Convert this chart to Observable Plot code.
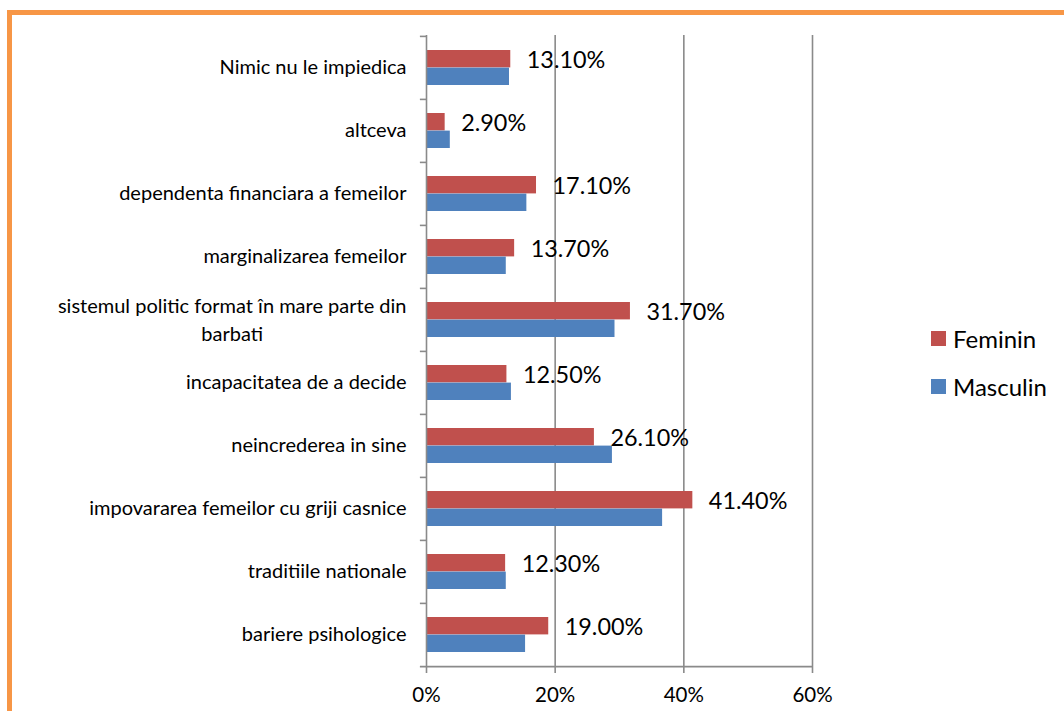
<!DOCTYPE html>
<html>
<head>
<meta charset="utf-8">
<script src="https://cdn.jsdelivr.net/npm/d3@7"></script>
<script src="https://cdn.jsdelivr.net/npm/@observablehq/plot@0.6"></script>
<style>
  html, body { margin: 0; padding: 0; background: #fff; }
  #wrap { position: relative; width: 1064px; height: 711px; overflow: hidden; font-family: Lato, "Open Sans", sans-serif; }
  #border { position: absolute; left: 7px; top: 10px; width: 1200px; height: 900px;
            border-left: 5px solid #F79646; border-top: 5px solid #F79646; box-sizing: border-box; }
  #chart { position: absolute; left: 0; top: 0; }
  .leg { position: absolute; left: 931px; display: flex; align-items: center; font-size: 24px; color: #000; }
  .leg span.sw { width: 15px; height: 15px; display: inline-block; margin-right: 7px; }
</style>
</head>
<body>
<div id="wrap">
  <div id="border"></div>
  <div id="chart"></div>
  <div id="legend"></div>
</div>
<script>
// ---- data (top to bottom) ----
const categories = [
  "Nimic nu le impiedica",
  "altceva",
  "dependenta financiara a femeilor",
  "marginalizarea femeilor",
  "sistemul politic format în mare parte din\nbarbati",
  "incapacitatea de a decide",
  "neincrederea in sine",
  "impovararea femeilor cu griji casnice",
  "traditiile nationale",
  "bariere psihologice"
];
const feminin  = [13.1, 2.9, 17.1, 13.7, 31.7, 12.5, 26.1, 41.4, 12.3, 19.0];
const masculin = [12.9, 3.7, 15.6, 12.4, 29.3, 13.2, 28.9, 36.7, 12.4, 15.4];
const seriesNames = ["Feminin", "Masculin"];
const seriesColors = ["#C0504D", "#4F81BD"];
const xTicks = [0, 20, 40, 60];

// ---- layout ----
const W = 1064, H = 711;
const mTop = 35, mBottom = 44, mLeft = 426, mRight = 252;
const bw = (H - mTop - mBottom) / categories.length;
const labelFont = "Lato, 'Open Sans', sans-serif";
const catSize = 20, valSize = 23.4, tickSize = 20.5;
const catPad = 20, lineGap = 28;

const femData = categories.map((c, i) => ({cat: c, v: feminin[i]}));
const masData = categories.map((c, i) => ({cat: c, v: masculin[i]}));

// measure text width in SVG with the same font
function textWidth(str) {
  const ns = "http://www.w3.org/2000/svg";
  const svg = document.createElementNS(ns, "svg");
  const t = document.createElementNS(ns, "text");
  t.setAttribute("font-family", labelFont);
  t.setAttribute("font-size", catSize);
  t.textContent = str;
  svg.appendChild(t);
  document.body.appendChild(svg);
  const w = t.getComputedTextLength();
  svg.remove();
  return w;
}

const single = [], first = [], second = [];
categories.forEach(c => {
  const lines = c.split("\n");
  if (lines.length === 1) single.push({cat: c, t: c});
  else {
    const w = textWidth(lines[0]);
    first.push({cat: c, t: lines[0], w});
    second.push({cat: c, t: lines[1], w});
  }
});
const secondDx = second.length ? -(catPad + second[0].w / 2) : 0;

const gray = "#8a8a8a";
const chart = Plot.plot({
  width: W, height: H,
  marginTop: mTop, marginBottom: mBottom, marginLeft: mLeft, marginRight: mRight,
  style: {background: "transparent", fontFamily: labelFont, color: "#000"},
  x: {domain: [0, 60], ticks: xTicks, tickFormat: d => d + "%", label: null},
  y: {domain: categories, padding: 0, axis: null},
  marks: [
    Plot.ruleX(xTicks.slice(1), {stroke: gray, strokeWidth: 1.6}),
    Plot.barX(femData, {y: "cat", x: "v", fill: seriesColors[0], insetTop: 14, insetBottom: bw - 31.6}),
    Plot.barX(masData, {y: "cat", x: "v", fill: seriesColors[1], insetTop: 31.6, insetBottom: bw - 49.2}),
    Plot.ruleX([0], {stroke: gray, strokeWidth: 1.6}),
    Plot.ruleY(categories, {y: d => d, dy: -bw / 2, x1: -0.95, x2: 0, stroke: gray, strokeWidth: 1.6}),
    Plot.ruleY([categories[categories.length - 1]], {y: d => d, dy: bw / 2, x1: -0.95, x2: 60, stroke: gray, strokeWidth: 1.6}),
    Plot.axisX({ticks: xTicks, tickFormat: d => d + "%", tickSize: 6, tickPadding: 14, stroke: gray, strokeWidth: 1.6, fontSize: tickSize, label: null}),
    Plot.text(single, {x: () => 0, y: "cat", text: "t", dx: -catPad, textAnchor: "end", fontSize: catSize, fill: "#000"}),
    Plot.text(first, {x: () => 0, y: "cat", text: "t", dx: -catPad, dy: -lineGap / 2 + 1, textAnchor: "end", fontSize: catSize, fill: "#000"}),
    Plot.text(second, {x: () => 0, y: "cat", text: "t", dx: secondDx, dy: lineGap / 2 + 1, textAnchor: "middle", fontSize: catSize, fill: "#000"}),
    Plot.text(femData, {x: "v", y: "cat", text: d => d.v.toFixed(2) + "%", dx: 16, dy: -8, textAnchor: "start", fontSize: valSize, fill: "#000"})
  ]
});
document.getElementById("chart").appendChild(chart);

// legend
const leg = document.getElementById("legend");
seriesNames.forEach((s, i) => {
  const d = document.createElement("div");
  d.className = "leg";
  d.style.top = (324 + i * 48) + "px";
  d.innerHTML = `<span class="sw" style="background:${seriesColors[i]}"></span><span>${s}</span>`;
  leg.appendChild(d);
});
</script>
</body>
</html>
